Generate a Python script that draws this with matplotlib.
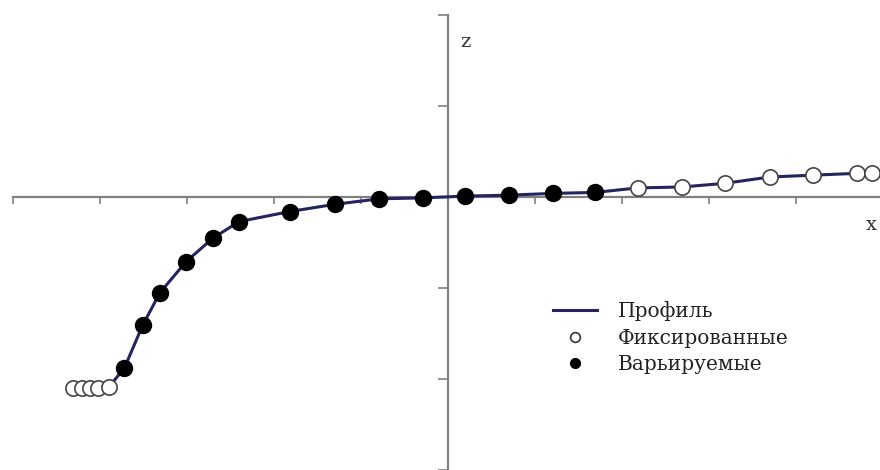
import numpy as np
import matplotlib.pyplot as plt
from matplotlib.lines import Line2D

# fixed nodes (left and right ends)
fix_left_x = [-4.31, -4.21, -4.11, -4.02, -3.90]
fix_left_z = [-2.10, -2.10, -2.10, -2.10, -2.09]
fix_right_x = [2.18, 2.69, 3.18, 3.70, 4.20, 4.70, 4.87]
fix_right_z = [0.10, 0.11, 0.15, 0.22, 0.24, 0.26, 0.26]

# varied nodes
var_x = [-3.72, -3.51, -3.31, -3.01, -2.70, -2.40, -1.82, -1.30, -0.79, -0.29,
         0.20, 0.70, 1.21, 1.69]
var_z = [-1.88, -1.41, -1.05, -0.71, -0.45, -0.27, -0.16, -0.08, -0.02, -0.01,
         0.01, 0.02, 0.04, 0.05]

x_ticks = [-5, -4, -3, -2, -1, 0, 1, 2, 3, 4]
z_ticks = [-3, -2, -1, 0, 1, 2]

# profile goes through all nodes
prof_x = fix_left_x + var_x + fix_right_x
prof_z = fix_left_z + var_z + fix_right_z

line_col = '#24245e'
axis_col = '#808080'

fig = plt.figure(figsize=(8.8, 4.7), dpi=100)
ax = fig.add_axes([0, 0, 1, 1])

ax.plot(prof_x, prof_z, color=line_col, lw=2.2, zorder=2)
ax.plot(fix_left_x + fix_right_x, fix_left_z + fix_right_z, 'o', ls='none',
        ms=11, mfc='white', mec='#444444', mew=1.2, zorder=3)
ax.plot(var_x, var_z, 'o', ls='none', ms=11.5, mfc='black', mec='black', zorder=3)

ax.set_xlim(-448 / 87, 432 / 87)
ax.set_ylim(-273 / 91, 197 / 91)

for s in ['top', 'right']:
    ax.spines[s].set_visible(False)
ax.spines['left'].set_position(('data', 0))
ax.spines['bottom'].set_position(('data', 0))
ax.spines['left'].set_bounds(-3, 2)
ax.spines['bottom'].set_bounds(-5, 432 / 87)
for s in ['left', 'bottom']:
    ax.spines[s].set_color(axis_col)
    ax.spines[s].set_linewidth(1.6)
    ax.spines[s].set_zorder(1)

ax.set_xticks(x_ticks)
ax.set_yticks(z_ticks)
ax.tick_params(axis='x', direction='out', length=5, width=1.2, color=axis_col,
               labelbottom=False)
ax.tick_params(axis='y', direction='out', length=7, width=1.2, color=axis_col,
               labelleft=False)

serif = 'DejaVu Serif'
ax.text(0.14, 1.70, 'z', fontsize=14, family=serif, color='#333333',
        ha='left', va='center')
ax.text(4.80, -0.31, 'x', fontsize=14, family=serif, color='#333333',
        ha='left', va='center')

handles = [
    Line2D([], [], color=line_col, lw=2.2),
    Line2D([], [], marker='o', ls='none', ms=7, mfc='white', mec='#333333', mew=1.2),
    Line2D([], [], marker='o', ls='none', ms=7, mfc='black', mec='black'),
]
labels = ['Профиль', 'Фиксированные', 'Варьируемые']
leg = ax.legend(handles, labels, loc='upper left',
                bbox_to_anchor=(553 / 880, 1 - 301 / 470),
                frameon=False, prop={'family': serif, 'size': 14.5},
                borderpad=0, borderaxespad=0,
                handlelength=2.2, handletextpad=1.0, labelspacing=0.38)
for t in leg.get_texts():
    t.set_color('#222222')

fig.savefig('out.png', dpi=100)
